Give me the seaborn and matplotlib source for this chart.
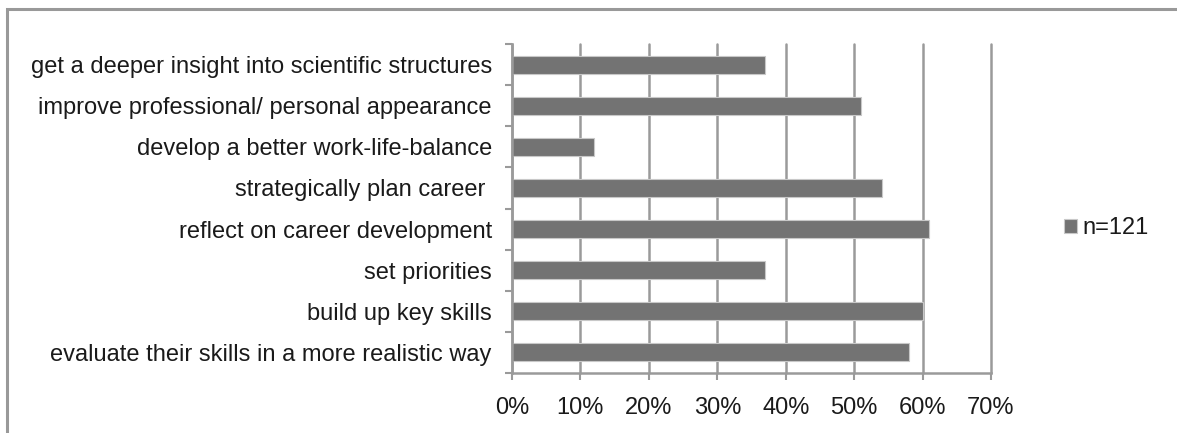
import matplotlib
matplotlib.use("Agg")
import matplotlib.pyplot as plt
from matplotlib.patches import Rectangle
from matplotlib.ticker import PercentFormatter, FixedLocator
import seaborn as sns

# Survey answers (share of respondents), listed top to bottom
categories = [
    "get a deeper insight into scientific structures",
    "improve professional/ personal appearance",
    "develop a better work-life-balance",
    "strategically plan career ",
    "reflect on career development",
    "set priorities",
    "build up key skills",
    "evaluate their skills in a more realistic way",
]
shares = [0.37, 0.51, 0.12, 0.54, 0.61, 0.37, 0.60, 0.58]
series_label = "n=121"
x_ticks = [0.0, 0.1, 0.2, 0.3, 0.4, 0.5, 0.6, 0.7]

sns.set_theme(style="white")
plt.rcParams["font.family"] = ["Liberation Sans", "DejaVu Sans"]

grid_col = "#9a9a9a"
bar_col = "#737373"
text_col = "#1a1a1a"
fs = 17

fig = plt.figure(figsize=(11.77, 4.33), dpi=100)
ax = fig.add_axes([512 / 1177, 60 / 433, (991 - 512) / 1177, (373 - 44) / 433])

sns.barplot(x=shares, y=categories, color=bar_col, width=0.44, saturation=1,
            edgecolor="#c8c8c8", linewidth=0.8, label=series_label, ax=ax)

ax.set_xlim(0, 0.7)
ax.set_ylim(len(categories) - 0.5, -0.5)
ax.xaxis.set_major_locator(FixedLocator(x_ticks))
ax.xaxis.set_major_formatter(PercentFormatter(1.0, decimals=0))
ax.yaxis.set_major_locator(FixedLocator(range(len(categories))))
ax.set_yticklabels(categories)
ax.yaxis.set_minor_locator(FixedLocator([i - 0.5 for i in range(len(categories) + 1)]))

ax.grid(True, axis="x", color=grid_col, linewidth=1.8)
for gl in ax.get_xgridlines():
    gl.set_clip_on(False)
ax.set_axisbelow(True)
for side in ("top", "right"):
    ax.spines[side].set_visible(False)
for side in ("left", "bottom"):
    ax.spines[side].set_color(grid_col)
    ax.spines[side].set_linewidth(1.8)

ax.tick_params(axis="y", which="major", length=0, pad=14.5, labelsize=fs, labelcolor=text_col)
ax.tick_params(axis="y", which="minor", length=5, width=1.5, color=grid_col, left=True)
ax.tick_params(axis="x", which="major", length=5, width=1.5, color=grid_col, bottom=True,
               pad=12, labelsize=fs, labelcolor=text_col)
ax.set_xlabel("")
ax.set_ylabel("")

leg = ax.legend(loc="center left", bbox_to_anchor=(1043 / 1177, 1 - 228 / 433),
                bbox_transform=fig.transFigure, frameon=False, fontsize=fs,
                handlelength=0.55, handleheight=0.55, handletextpad=0.2)
for t in leg.get_texts():
    t.set_color(text_col)

# outer chart frame (left and top edges visible)
fig.patches.append(Rectangle((7 / 1177, -0.1), 1.2, 1 - 9 / 433 + 0.1,
                             transform=fig.transFigure, fill=False,
                             edgecolor="#999999", linewidth=2.2))

fig.savefig("out.png", dpi=100)
